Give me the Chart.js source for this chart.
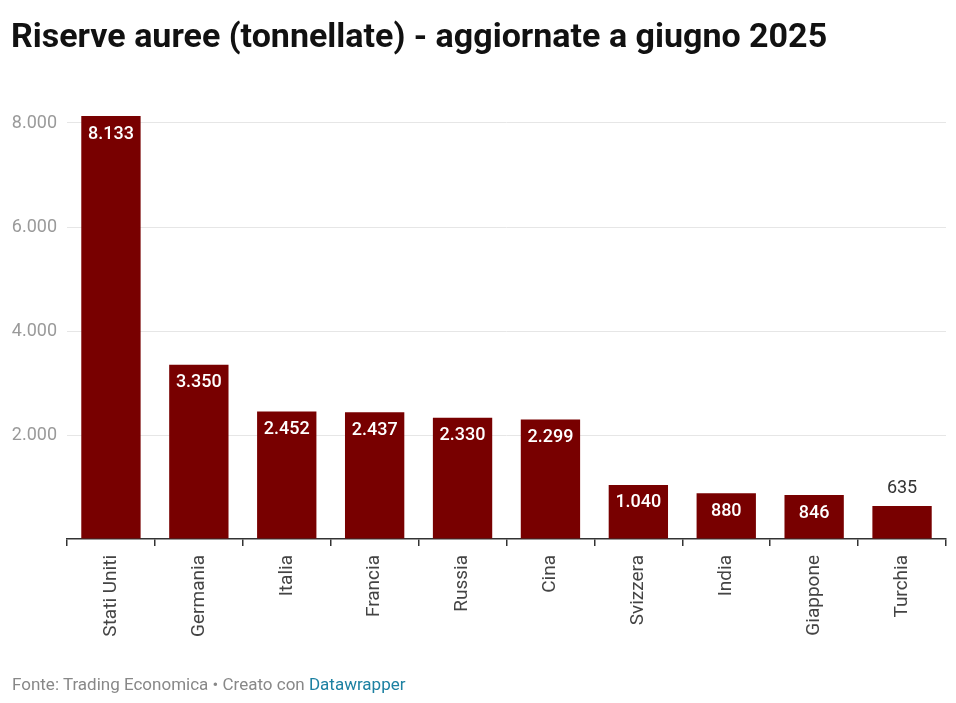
<!DOCTYPE html>
<html><head><meta charset="utf-8">
<script src="https://cdn.jsdelivr.net/npm/chart.js@4"></script>
<style>
html,body{margin:0;padding:0;background:#fff;width:956px;height:703px;overflow:hidden;font-family:Roboto,"Noto Sans",sans-serif;}
#title{position:absolute;left:11px;top:15px;font-size:34px;line-height:40px;font-weight:700;color:#111;letter-spacing:0px;white-space:nowrap;}
#footer{position:absolute;left:12px;top:673px;font-size:17px;line-height:22px;color:#888;white-space:nowrap;}
#footer span{color:#1d81a2;}
#wrap{position:absolute;left:0;top:0;width:956px;height:703px;}
</style></head><body>
<div id="wrap"><canvas id="c" width="956" height="703"></canvas></div>
<div id="title">Riserve auree (tonnellate) - aggiornate a giugno 2025</div>
<div id="footer">Fonte: Trading Economica • Creato con <span>Datawrapper</span></div>
<script>
const categories = ["Stati Uniti","Germania","Italia","Francia","Russia","Cina","Svizzera","India","Giappone","Turchia"];
const values = [8133,3350,2452,2437,2330,2299,1040,880,846,635];
const yTicks = [0,2000,4000,6000,8000];

function fmt(v){return String(v).replace(/\B(?=(\d{3})+(?!\d))/g,'.');}

const labelPlugin = {
  id:'valueLabels',
  afterDatasetsDraw(chart){
    const ctx = chart.ctx;
    const meta = chart.getDatasetMeta(0);
    ctx.save();
    ctx.textAlign='center';
    ctx.textBaseline='middle';
    meta.data.forEach((bar,i)=>{
      const v = values[i];
      const h = bar.base - bar.y;
      if(h > 40){
        ctx.fillStyle='#fff';
        ctx.font='500 18px Roboto';
        ctx.fillText(fmt(v), bar.x, bar.y+18);
      } else {
        ctx.fillStyle='#333';
        ctx.font='400 18px Roboto';
        ctx.fillText(fmt(v), bar.x, bar.y-17);
      }
    });
    ctx.restore();
  }
};

new Chart(document.getElementById('c'),{
  type:'bar',
  data:{labels:categories,datasets:[{data:values,backgroundColor:'#780000',borderWidth:0,barPercentage:0.675,categoryPercentage:1}]},
  options:{
    responsive:false,animation:false,
    layout:{padding:{top:110,left:0,right:10,bottom:0}},
    plugins:{legend:{display:false},tooltip:{enabled:false}},
    scales:{
      x:{
        grid:{drawOnChartArea:false,drawTicks:true,tickLength:7,color:'#333',lineWidth:1.5},
        border:{display:true,color:'#333',width:1.5},
        ticks:{color:'#444',font:{family:'Roboto',size:19},minRotation:90,maxRotation:90,padding:9},
        afterFit(s){s.height=164;}
      },
      y:{
        min:0,max:8250,
        afterBuildTicks(s){s.ticks = yTicks.map(v=>({value:v}));},
        grid:{color:(c)=>c.tick&&c.tick.value===0?'rgba(0,0,0,0)':'#e6e6e6',lineWidth:1,drawTicks:false},
        border:{display:false},
        ticks:{color:'#9a9a9a',font:{family:'Roboto',size:18},padding:10,callback:(v)=>v===0?'':fmt(v)},
        afterFit(s){s.width=67;}
      }
    }
  },
  plugins:[labelPlugin]
});
</script>
</body></html>
